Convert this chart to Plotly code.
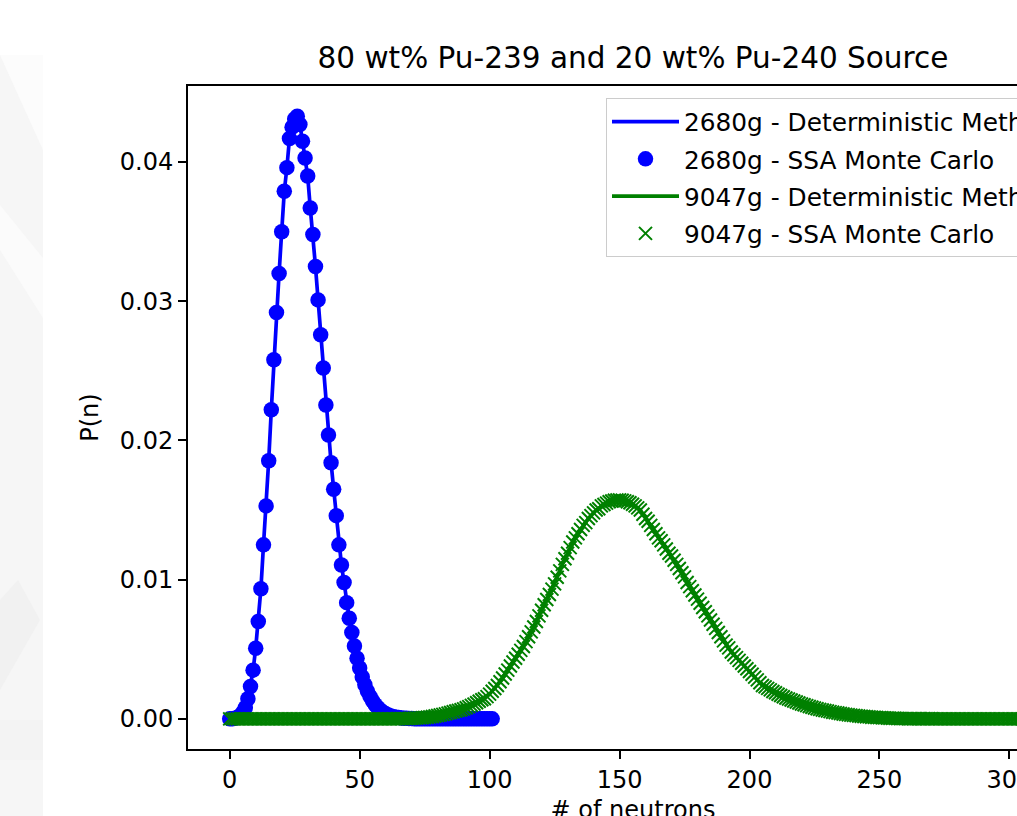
import plotly.graph_objects as go

# P(n), one value per neutron count n = 0, 1, 2, ...
p_2680 = [
    0.00000, 0.00001, 0.00004, 0.00010, 0.00022, 0.00045, 0.00080, 0.00145, 0.00232, 0.00350,
    0.00508, 0.00700, 0.00934, 0.01250, 0.01530, 0.01855, 0.02220, 0.02580, 0.02920, 0.03200,
    0.03500, 0.03790, 0.03960, 0.04170, 0.04250, 0.04310, 0.04330, 0.04270, 0.04150, 0.04030,
    0.03900, 0.03670, 0.03480, 0.03250, 0.03010, 0.02760, 0.02520, 0.02255, 0.02040, 0.01840,
    0.01650, 0.01460, 0.01250, 0.01106, 0.00980, 0.00835, 0.00723, 0.00620, 0.00524, 0.00436,
    0.00365, 0.00300, 0.00245, 0.00198, 0.00160, 0.00128, 0.00101, 0.00080, 0.00062, 0.00048,
    0.00037, 0.00028, 0.00021, 0.00016, 0.00012, 0.00009, 0.00007, 0.00005, 0.00004, 0.00003,
    0.00002, 0.00001, 0.00001, 0.00001, 0.0, 0.0, 0.0, 0.0, 0.0, 0.0,
    0.0, 0.0, 0.0, 0.0, 0.0, 0.0, 0.0, 0.0, 0.0, 0.0,
    0.0, 0.0, 0.0, 0.0, 0.0, 0.0, 0.0, 0.0, 0.0, 0.0,
    0.0, 0.0,
]

p_9047 = [
    0.0, 0.0, 0.0, 0.0, 0.0, 0.0, 0.0, 0.0, 0.0, 0.0,
    0.0, 0.0, 0.0, 0.0, 0.0, 0.0, 0.0, 0.0, 0.0, 0.0,
    0.0, 0.0, 0.0, 0.0, 0.0, 0.0, 0.0, 0.0, 0.0, 0.0,
    0.0, 0.0, 0.0, 0.0, 0.0, 0.0, 0.0, 0.0, 0.0, 0.0,
    0.0, 0.0, 0.0, 0.0, 0.0, 0.0, 0.0, 0.0, 0.0, 0.0,
    0.0, 0.0, 0.0, 0.0, 0.0, 0.0, 0.0, 0.0, 0.0, 0.0,
    0.0, 0.0, 0.0, 0.0, 0.0, 0.00001, 0.00001, 0.00002, 0.00002, 0.00003,
    0.00004, 0.00005, 0.00006, 0.00007, 0.00008, 0.00010, 0.00012, 0.00014, 0.00017, 0.00020,
    0.00024, 0.00028, 0.00032, 0.00036, 0.00041, 0.00046, 0.00051, 0.00056, 0.00061, 0.00066,
    0.00072, 0.00080, 0.00088, 0.00097, 0.00106, 0.00116, 0.00126, 0.00137, 0.00145, 0.00160,
    0.00178, 0.00198, 0.00218, 0.00240, 0.00267, 0.00294, 0.00322, 0.00350, 0.00380, 0.00408,
    0.00436, 0.00464, 0.00492, 0.00520, 0.00555, 0.00590, 0.00625, 0.00660, 0.00700, 0.00740,
    0.00780, 0.00820, 0.00857, 0.00894, 0.00932, 0.00970, 0.01017, 0.01063, 0.01110, 0.01150,
    0.01190, 0.01230, 0.01270, 0.01300, 0.01330, 0.01360, 0.01390, 0.01410, 0.01440, 0.01460,
    0.01480, 0.01500, 0.01510, 0.01530, 0.01540, 0.01550, 0.01560, 0.01565, 0.01570, 0.01572,
    0.01573, 0.01570, 0.01566, 0.01560, 0.01552, 0.01542, 0.01530, 0.01516, 0.01500, 0.01470,
    0.01440, 0.01420, 0.01390, 0.01360, 0.01330, 0.01300, 0.01280, 0.01250, 0.01220, 0.01190,
    0.01170, 0.01140, 0.01110, 0.01080, 0.01050, 0.01020, 0.00980, 0.00950, 0.00920, 0.00890,
    0.00860, 0.00830, 0.00800, 0.00770, 0.00740, 0.00710, 0.00680, 0.00650, 0.00620, 0.00590,
    0.00560, 0.00530, 0.00510, 0.00480, 0.00460, 0.00440, 0.00420, 0.00400, 0.00380, 0.00360,
    0.00340, 0.00320, 0.00300, 0.00280, 0.00260, 0.00240, 0.00230, 0.00219, 0.00208, 0.00197,
    0.00187, 0.00177, 0.00168, 0.00159, 0.00150, 0.00143, 0.00135, 0.00128, 0.00121, 0.00114,
    0.00107, 0.00101, 0.00095, 0.00089, 0.00083, 0.00078, 0.00073, 0.00068, 0.00064, 0.00060,
    0.00056, 0.00052, 0.00048, 0.00045, 0.00042, 0.00038, 0.00035, 0.00032, 0.00030, 0.00027,
    0.00025, 0.00023, 0.00021, 0.00019, 0.00017, 0.00015, 0.00014, 0.00012, 0.00011, 0.00010,
    0.00009, 0.00008, 0.00007, 0.00006, 0.00005, 0.00004, 0.00004, 0.00003, 0.00003, 0.00002,
    0.00002, 0.00001, 0.00001, 0.00001, 0.00001, 0.00001, 0.00001, 0.00001, 0.00001, 0.00001,
    0.00001, 0.0, 0.0, 0.0, 0.0, 0.0, 0.0, 0.0, 0.0, 0.0,
    0.0, 0.0, 0.0, 0.0, 0.0, 0.0, 0.0, 0.0, 0.0, 0.0,
    0.0, 0.0, 0.0, 0.0, 0.0, 0.0, 0.0, 0.0, 0.0, 0.0,
    0.0, 0.0, 0.0, 0.0, 0.0, 0.0, 0.0, 0.0, 0.0, 0.0,
    0.0,
]

n_2680 = list(range(len(p_2680)))
n_9047 = list(range(len(p_9047)))

FONT = 'DejaVu Sans'
# plot area in page pixels; the figure is wider/taller than the window, like the cropped original
L, T, PW, PH = 188, 86, 890, 663
FIG_W, FIG_H = 1158, 849

fig = go.Figure()

fig.add_trace(go.Scatter(x=n_2680, y=p_2680, mode='lines', name='2680g - Deterministic Method',
                         line=dict(color='#0000ff', width=3.7), legendgroup='a'))
fig.add_trace(go.Scatter(x=n_2680, y=p_2680, mode='markers', name='2680g - SSA Monte Carlo',
                         marker=dict(color='#0000ff', size=15.5, symbol='circle'), legendgroup='b'))
fig.add_trace(go.Scatter(x=n_9047, y=p_9047, mode='lines', name='9047g - Deterministic Method',
                         line=dict(color='#008000', width=3.7), legendgroup='c'))
fig.add_trace(go.Scatter(x=n_9047, y=p_9047, mode='markers', name='9047g - SSA Monte Carlo',
                         marker=dict(color='#008000', size=13, symbol='x-thin',
                                     line=dict(color='#008000', width=2)), legendgroup='d'))

ymax = max(max(p_2680), max(p_9047))

axis_style = dict(showline=True, linecolor='black', linewidth=2, mirror=True,
                  ticks='outside', ticklen=8, tickwidth=2, tickcolor='black',
                  showgrid=False, zeroline=False,
                  tickfont=dict(family=FONT, size=24, color='black'))


def sx(px):
    # page pixel -> paper x
    return (px - L) / PW


def sy(py):
    return 1 - (py - T) / PH


# faint grey page pattern at the far left
shapes = [
    dict(type='rect', xref='paper', yref='paper', x0=sx(0), x1=sx(43), y0=sy(55), y1=sy(830),
         fillcolor='#f6f6f6', line_width=0, layer='below'),
    dict(type='path', xref='paper', yref='paper', layer='below', line_width=0, fillcolor='#fbfbfb',
         path=f'M {sx(0)},{sy(205)} L {sx(43)},{sy(258)} L {sx(43)},{sy(318)} L {sx(0)},{sy(250)} Z'),
    dict(type='path', xref='paper', yref='paper', layer='below', line_width=0, fillcolor='#fcfcfc',
         path=f'M {sx(0)},{sy(55)} L {sx(43)},{sy(55)} L {sx(43)},{sy(150)} Z'),
    dict(type='path', xref='paper', yref='paper', layer='below', line_width=0, fillcolor='#f1f1f1',
         path=f'M {sx(0)},{sy(600)} L {sx(18)},{sy(580)} L {sx(40)},{sy(620)} L {sx(0)},{sy(690)} Z'),
    dict(type='rect', xref='paper', yref='paper', x0=sx(0), x1=sx(43), y0=sy(720), y1=sy(760),
         fillcolor='#f3f3f3', line_width=0, layer='below'),
]

fig.update_layout(
    width=FIG_W, height=FIG_H,
    margin=dict(l=L, r=FIG_W - L - PW, t=T, b=FIG_H - T - PH, autoexpand=False),
    paper_bgcolor='white', plot_bgcolor='white',
    font=dict(family=FONT, color='black'),
    title=dict(text='80 wt% Pu-239 and 20 wt% Pu-240 Source', xref='paper', x=0.5, xanchor='center',
               yref='container', y=1 - 58 / FIG_H, yanchor='middle',
               font=dict(family=FONT, size=29.5, color='black')),
    xaxis=dict(axis_style, range=[-16.05, 326.4], tickvals=[0, 50, 100, 150, 200, 250, 300],
               title=dict(text='# of neutrons', font=dict(family=FONT, size=24), standoff=8)),
    yaxis=dict(axis_style, range=[-0.05 * ymax, 1.05 * ymax], dtick=0.01, tickformat='.2f',
               title=dict(text='P(n)', font=dict(family=FONT, size=24), standoff=14)),
    legend=dict(x=sx(606), y=sy(98), xanchor='left', yanchor='top',
                bordercolor='#cccccc', borderwidth=1, bgcolor='rgba(255,255,255,0.8)',
                font=dict(family=FONT, size=24.8, color='black'),
                itemwidth=67, tracegroupgap=2),
    shapes=shapes,
)

# the page shows the top-left of the figure only, as in the cropped original
fig.write_html("out.html", config={'displayModeBar': False},
               post_script="document.body.style.margin='0';document.body.style.overflow='hidden';")
